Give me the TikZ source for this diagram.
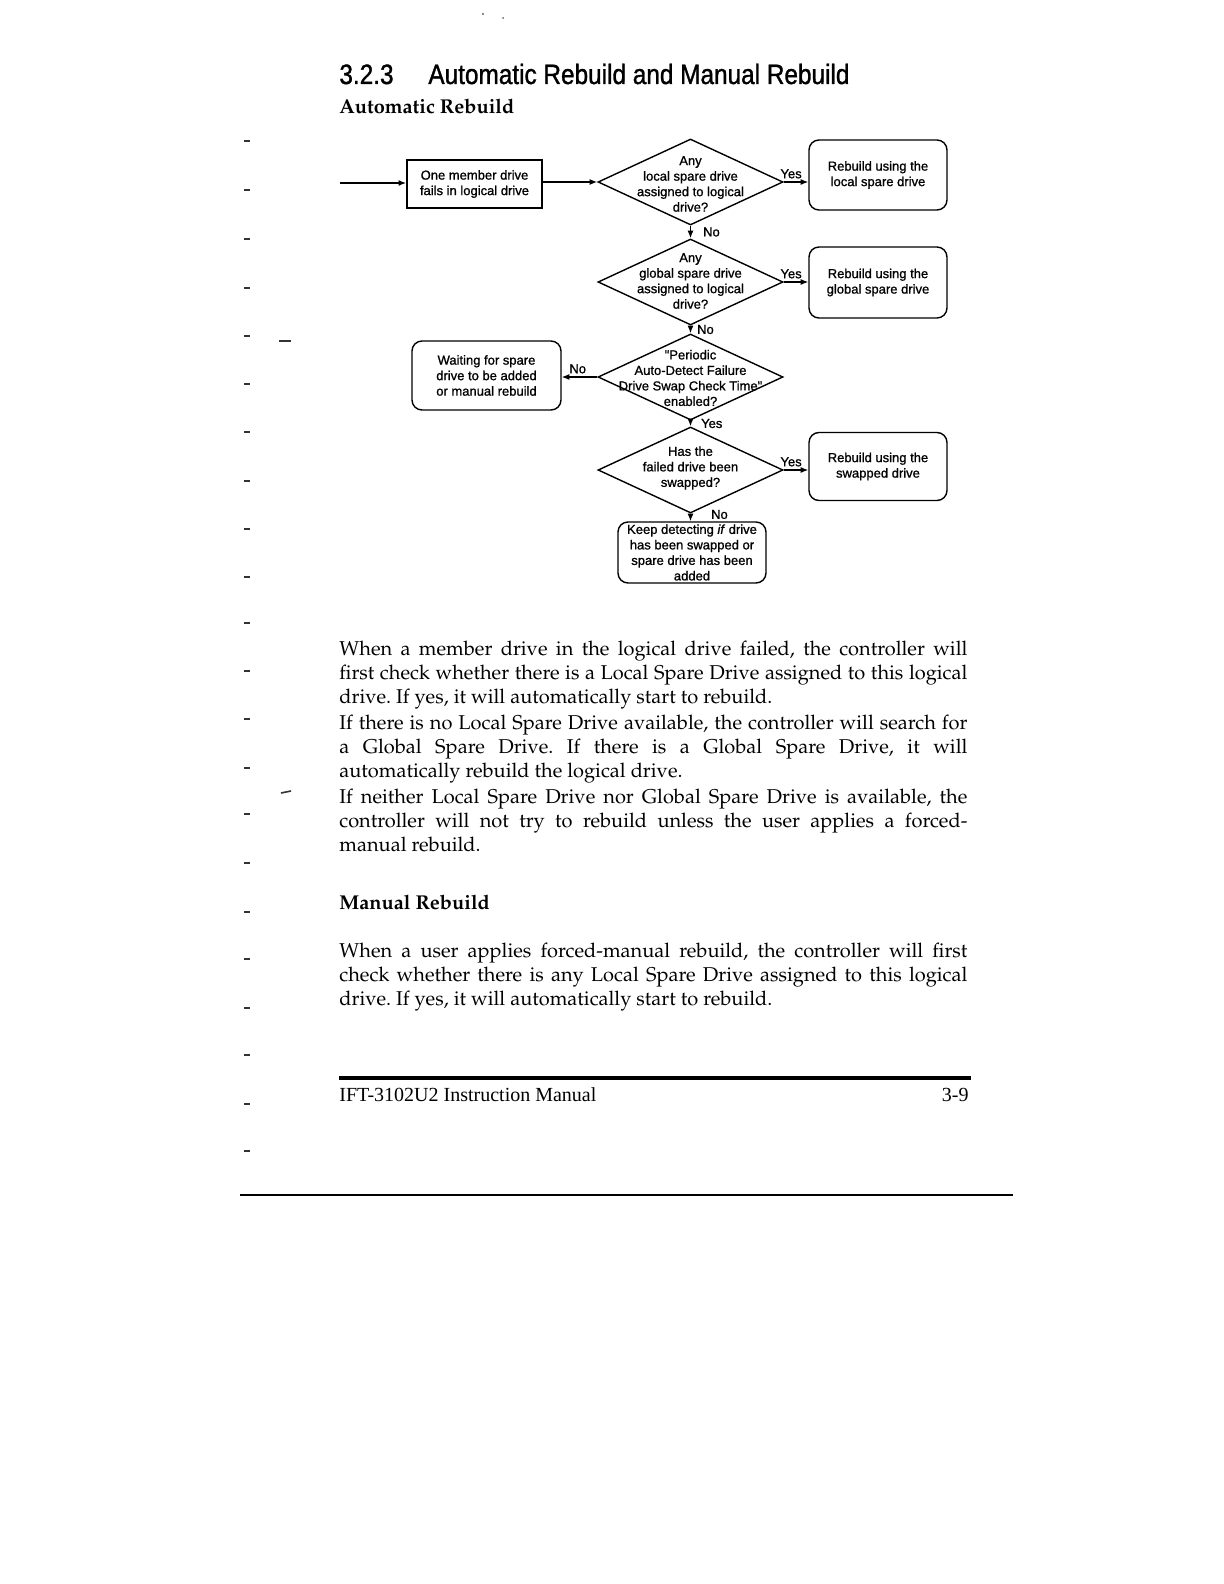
\documentclass[tikz,border=0pt]{standalone}
\usepackage{fontspec}
\usepackage[T1]{fontenc}
\usepackage{mathpazo}
\newfontfamily\arialfb[FakeBold=1.0]{Liberation Sans}
\newfontfamily\arialtb[FakeBold=1.3]{Liberation Sans}
\newfontfamily\timesf{Liberation Serif}
\usetikzlibrary{shapes.geometric,arrows.meta}
\newcommand\jl[1]{\makebox[314pt][s]{#1}}
\newcommand\flfont{\arialfb\fontsize{6.5}{7.75}\selectfont}
\frenchspacing
\begin{document}
\begin{tikzpicture}[x=0.5pt,y=-0.5pt,
  flow/.style={font=\flfont, align=center, inner sep=0pt},
  procbox/.style={draw, line width=0.9pt, minimum width=67.5pt, minimum height=24pt, inner sep=0pt},
  rbox/.style={draw, rounded corners=5pt, line width=0.7pt, inner sep=0pt},
  dia/.style={draw, diamond, minimum width=92.5pt, minimum height=43pt, inner sep=0pt, line width=0.7pt},
  arr/.style={-{Latex[length=3.8pt,width=3pt]}, line width=0.65pt},
  lbl/.style={font=\flfont, inner sep=0pt},
  body/.style={font=\fontsize{10}{12}\selectfont, inner sep=0pt, anchor=base west},
  tick/.style={line width=0.8pt, black!80}
]
\useasboundingbox[fill=white] (0,0) rectangle (1224,1584);

% scan marks
\fill[black!60] (483,14) circle (0.6pt);
\fill[black!60] (503,18) circle (0.5pt);
\foreach \yy in {141,190,239,288,336,384,432,481,529,577,623,671,719,768,814,863,912,959,1008,1055,1104,1151}
  \draw[tick] (244,\yy) -- (250,\yy);
\draw[tick] (279,341) -- (291,341);
\draw[tick] (281,793) -- (291,791);

% headings
\node[inner sep=0pt, anchor=base west] (secnum) at (339,84) {\scalebox{0.87}[1]{\arialtb\fontsize{14}{16}\selectfont 3.2.3}};
\node[inner sep=0pt, anchor=base west] (title) at (428,84) {\scalebox{0.87}[1]{\arialtb\fontsize{14}{16}\selectfont Automatic Rebuild and Manual Rebuild}};
\node[inner sep=0pt, anchor=base west] (sub1) at (339,113) {\fontsize{10}{12}\selectfont\bfseries Automatic Rebuild};

% flowchart
\coordinate (start) at (340,183);
\node[procbox, flow] (fail) at (474.5,184) {One member drive\\fails in logical drive};
\node[dia] (d1) at (690.5,182) {};
\node[flow] (d1t) at (690.5,184) {Any\\local spare drive\\assigned to logical\\drive?};
\node[rbox, flow, minimum width=69pt, minimum height=35pt] (r1) at (878,175) {Rebuild using the\\local spare drive};
\node[dia] (d2) at (690.5,282) {};
\node[flow] (d2t) at (690.5,281) {Any\\global spare drive\\assigned to logical\\drive?};
\node[rbox, flow, minimum width=69pt, minimum height=35.5pt] (r2) at (878,282.5) {Rebuild using the\\global spare drive};
\node[dia] (d3) at (690.5,377) {};
\node[flow] (d3t) at (690.5,378) {"Periodic\\Auto-Detect Failure\\Drive Swap Check Time"\\enabled?};
\node[rbox, flow, minimum width=74.5pt, minimum height=34.5pt] (wait) at (486.5,375.5) {Waiting for spare\\drive to be added\\or manual rebuild};
\node[dia] (d4) at (690.5,470) {};
\node[flow] (d4t) at (690.5,468) {Has the\\failed drive been\\swapped?};
\node[rbox, flow, minimum width=69pt, minimum height=34pt] (r3) at (878,466.5) {Rebuild using the\\swapped drive};
\node[rbox, flow, minimum width=74pt, minimum height=30.5pt] (keep) at (692,552.5) {Keep detecting \textit{if} drive\\has been swapped or\\spare drive has been\\added};

\draw[arr] (start) -- (fail.west |- start);
\draw[arr, line width=0.9pt] (fail.east |- d1.west) -- (d1.west);
\draw[arr] (d1.east) -- (d1.east -| r1.west) node[lbl, pos=0.3, above=1.5pt] (y1) {Yes};
\draw[arr] (d1.south) -- (d2.north) node[lbl, pos=0.5, right=6pt] (n1) {No};
\draw[arr] (d2.east) -- (d2.east -| r2.west) node[lbl, pos=0.3, above=1.5pt] (y2) {Yes};
\draw[arr] (d2.south) -- (d3.north) node[lbl, pos=0.5, right=3pt] (n2) {No};
\draw[arr] (d3.west) -- (d3.west -| wait.east) node[lbl, pos=0.55, above=1.5pt] (n3) {No};
\draw[arr] (d3.south) -- (d4.north) node[lbl, pos=0.5, right=5pt] (y3) {Yes};
\draw[arr] (d4.east) -- (d4.east -| r3.west) node[lbl, pos=0.3, above=1.5pt] (y4) {Yes};
\draw[arr] (d4.south) -- (keep.north -| d4.south) node[lbl, pos=0.1, right=10pt] (n4) {No};

% body text
\node[body] (p1a) at (339,655) {\jl{When a member drive in the logical drive failed, the controller will}};
\node[body] (p1b) at (339,679) {\jl{first check whether there is a Local Spare Drive assigned to this logical}};
\node[body] (p1c) at (339,703) {drive. If yes, it will automatically start to rebuild.};
\node[body] (p2a) at (339,729) {\jl{If there is no Local Spare Drive available, the controller will search for}};
\node[body] (p2b) at (339,753) {\jl{a Global Spare Drive. If there is a Global Spare Drive, it will}};
\node[body] (p2c) at (339,777) {automatically rebuild the logical drive.};
\node[body] (p3a) at (339,803) {\jl{If neither Local Spare Drive nor Global Spare Drive is available, the}};
\node[body] (p3b) at (339,827) {\jl{controller will not try to rebuild unless the user applies a forced-}};
\node[body] (p3c) at (339,851) {manual rebuild.};

\node[inner sep=0pt, anchor=base west] (sub2) at (339,909) {\fontsize{10}{12}\selectfont\bfseries Manual Rebuild};

\node[body] (p4a) at (339,957) {\jl{When a user applies forced-manual rebuild, the controller will first}};
\node[body] (p4b) at (339,981) {\jl{check whether there is any Local Spare Drive assigned to this logical}};
\node[body] (p4c) at (339,1005) {drive. If yes, it will automatically start to rebuild.};

% footer
\coordinate (fr1) at (339,1078);
\coordinate (fr2) at (971,1078);
\draw[line width=2pt] (fr1) -- (fr2);
\node[inner sep=0pt, anchor=base west] (foot) at (339,1101) {\timesf\fontsize{10}{12}\selectfont IFT-3102U2 Instruction Manual};
\node[inner sep=0pt, anchor=base east] (pg) at (969,1101) {\timesf\fontsize{10}{12}\selectfont 3-9};
\coordinate (bl1) at (240,1195);
\coordinate (bl2) at (1013,1195);
\draw[line width=0.9pt] (bl1) -- (bl2);
\end{tikzpicture}
\end{document}
